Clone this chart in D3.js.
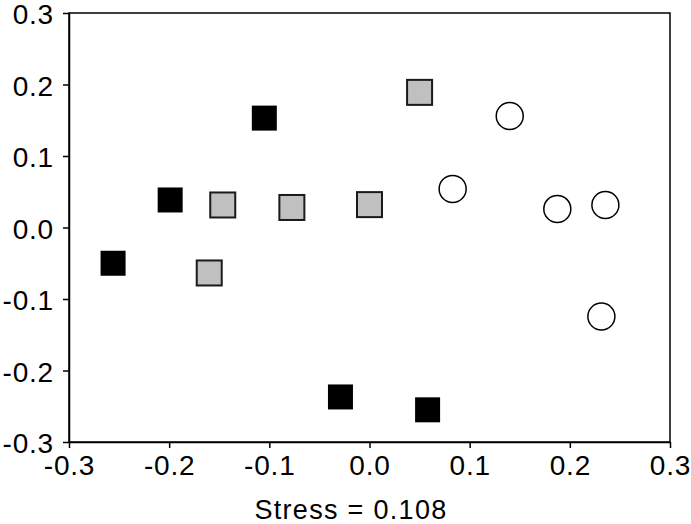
<!DOCTYPE html>
<html>
<head>
<meta charset="utf-8">
<script src="https://cdn.jsdelivr.net/npm/d3@7"></script>
<style>
  body { margin: 0; background: #fff; }
  .axis text { font-family: "Liberation Sans", Arial, sans-serif; font-size: 28px; letter-spacing: 0.8px; fill: #000; }
  .axis path, .axis line { stroke: #000; stroke-width: 1.5px; }
</style>
</head>
<body>
<div id="chart"></div>
<script>
// NMDS ordination points
var blackX = [-0.105, -0.199, -0.256, -0.029, 0.058];
var blackY = [0.153, 0.0385, -0.050, -0.237, -0.255];

var grayX = [0.050, -0.1465, -0.0775, 0.0, -0.160];
var grayY = [0.189, 0.0315, 0.028, 0.032, -0.0636];

var circleX = [0.140, 0.083, 0.1875, 0.2355, 0.2315];
var circleY = [0.156, 0.054, 0.026, 0.0315, -0.1245];

var ticks = [-0.3, -0.2, -0.1, 0.0, 0.1, 0.2, 0.3];
var stressLabel = "Stress = 0.108";

var margin = {top: 13, right: 21, bottom: 82, left: 69},
    width = 691 - margin.left - margin.right,
    height = 524 - margin.top - margin.bottom;

var svg = d3.select("#chart").append("svg")
    .attr("width", 691)
    .attr("height", 524);

var g = svg.append("g")
    .attr("transform", "translate(" + margin.left + "," + margin.top + ")");

var xScale = d3.scaleLinear().domain([-0.3, 0.3]).range([0, width]),
    yScale = d3.scaleLinear().domain([-0.3, 0.3]).range([height, 0]);

// plain hyphen for negatives, like the original
function fmt(d) { return d3.format(".1f")(d).replace("\u2212", "-"); }

// frame (top and right)
g.append("rect")
    .attr("x", 0).attr("y", 0)
    .attr("width", width).attr("height", height)
    .attr("fill", "none")
    .attr("stroke", "#000")
    .attr("stroke-width", 1.5);

g.append("g")
    .attr("class", "x axis")
    .attr("transform", "translate(0," + height + ")")
    .call(d3.axisBottom(xScale).tickValues(ticks).tickFormat(fmt).tickSize(6).tickSizeOuter(0).tickPadding(7));

g.append("g")
    .attr("class", "y axis")
    .call(d3.axisLeft(yScale).tickValues(ticks).tickFormat(fmt).tickSize(6).tickSizeOuter(0).tickPadding(9))
  .selectAll("text")
    .attr("dy", "0.38em");

var sq = 25;

function squares(xs, ys, fill) {
  g.append("g").selectAll("rect")
      .data(xs.map(function(d, i) { return {x: d, y: ys[i]}; }))
    .enter().append("rect")
      .attr("x", function(d) { return xScale(d.x) - sq / 2; })
      .attr("y", function(d) { return yScale(d.y) - sq / 2; })
      .attr("width", sq)
      .attr("height", sq)
      .attr("fill", fill)
      .attr("stroke", fill == "#000" ? "none" : "#1a1a1a")
      .attr("stroke-width", 2);
}

squares(blackX, blackY, "#000");
squares(grayX, grayY, "#c0c0c0");

g.append("g").selectAll("circle")
    .data(circleX.map(function(d, i) { return {x: d, y: circleY[i]}; }))
  .enter().append("circle")
    .attr("cx", function(d) { return xScale(d.x); })
    .attr("cy", function(d) { return yScale(d.y); })
    .attr("r", 13.5)
    .attr("fill", "#fff")
    .attr("stroke", "#000")
    .attr("stroke-width", 1.5);

svg.append("text")
    .attr("x", 351)
    .attr("y", 519)
    .attr("text-anchor", "middle")
    .style("font-family", "'Liberation Sans', Arial, sans-serif")
    .style("font-size", "27px")
    .style("letter-spacing", "1.3px")
    .text(stressLabel);
</script>
</body>
</html>
